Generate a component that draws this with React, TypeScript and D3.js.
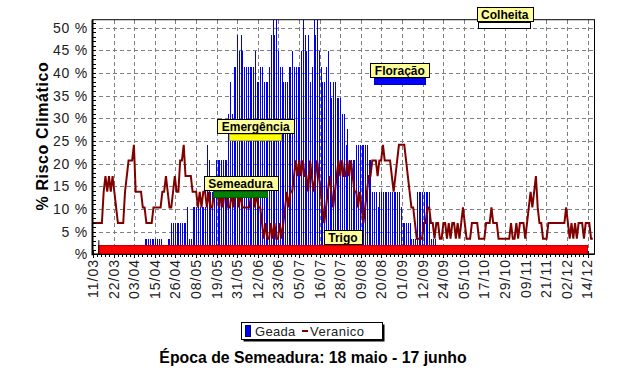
import React, { useRef, useEffect } from 'react';
import * as d3 from 'd3';

// each value = number of years (out of 29) with the event on that day, starting 11/03
const TOTAL_ANOS = 29;

const tickLabels = ['11/03', '22/03', '03/04', '15/04', '26/04', '08/05', '19/05', '31/05', '12/06',
  '23/06', '05/07', '16/07', '28/07', '09/08', '20/08', '01/09', '12/09', '24/09', '05/10', '17/10',
  '29/10', '09/11', '21/11', '02/12', '14/12'];

const yTicks = [0, 5, 10, 15, 20, 25, 30, 35, 40, 45, 50];

const geadaAnos = [
  0, 0, 0, 0, 0, 0, 0, 0, 0, 0, 0, 0, 0, 0, 0, 0, 0, 0, 0, 0,
  0, 0, 0, 0, 0, 0, 0, 0, 0, 1, 1, 1, 1, 1, 1, 1, 1, 1, 1, 0,
  0, 0, 1, 1, 2, 2, 2, 2, 2, 2, 2, 2, 2, 3, 1, 1, 3, 3, 3, 3,
  3, 3, 3, 3, 7, 6, 4, 4, 4, 6, 6, 6, 6, 6, 6, 6, 9, 11, 9, 12,
  12, 14, 13, 14, 13, 12, 12, 12, 12, 12, 12, 13, 11, 11, 12, 12, 11, 11, 11, 12,
  14, 15, 14, 15, 13, 12, 12, 11, 11, 11, 12, 12, 13, 12, 12, 12, 12, 13, 15, 14,
  13, 14, 11, 12, 15, 14, 15, 13, 12, 11, 11, 12, 13, 11, 10, 11, 11, 10, 10, 10,
  9, 9, 7, 8, 6, 6, 6, 6, 7, 7, 7, 7, 7, 7, 7, 6, 6, 4, 4, 4,
  3, 4, 4, 4, 4, 4, 4, 4, 4, 4, 4, 4, 4, 3, 2, 2, 2, 2, 2, 1,
  1, 1, 4, 4, 4, 4, 4, 4, 4, 4, 1, 1, 1, 0, 0, 0, 0, 0, 0, 0,
];

const veranicoAnos = [
  2, 2, 2, 2, 2, 2, 4, 5, 4, 5, 4, 5, 4, 3, 2, 2, 2, 2, 4, 5,
  6, 6, 6, 7, 4, 4, 4, 4, 3, 3, 2, 2, 2, 2, 3, 3, 3, 3, 3, 4,
  4, 5, 4, 3, 3, 4, 5, 4, 4, 6, 6, 7, 5, 5, 5, 5, 4, 4, 4, 3,
  4, 3, 4, 4, 3, 4, 3, 3, 4, 4, 4, 3, 4, 3, 4, 4, 3, 3, 4, 3,
  4, 4, 3, 4, 3, 3, 3, 3, 3, 4, 4, 3, 4, 3, 3, 2, 1, 2, 1, 1,
  2, 1, 2, 1, 1, 2, 1, 2, 3, 4, 3, 4, 4, 5, 6, 5, 6, 5, 6, 5,
  5, 4, 6, 5, 4, 5, 6, 5, 4, 3, 2, 3, 4, 5, 4, 3, 4, 5, 6, 5,
  6, 5, 5, 6, 5, 6, 5, 4, 4, 3, 4, 3, 2, 3, 4, 5, 5, 6, 6, 6,
  5, 6, 6, 7, 6, 6, 6, 6, 5, 4, 5, 6, 7, 7, 7, 7, 6, 5, 4, 3,
  3, 2, 1, 1, 1, 1, 2, 2, 3, 3, 2, 2, 1, 2, 2, 1, 1, 2, 2, 1,
  2, 1, 2, 2, 1, 2, 1, 2, 3, 2, 1, 1, 1, 2, 2, 2, 2, 1, 1, 1,
  1, 2, 2, 2, 3, 2, 2, 2, 1, 1, 1, 1, 1, 1, 1, 2, 1, 1, 2, 1,
  2, 2, 2, 1, 2, 3, 4, 3, 4, 5, 3, 2, 2, 1, 1, 1, 2, 2, 2, 2,
  2, 2, 2, 2, 2, 2, 3, 2, 1, 2, 1, 2, 1, 2, 2, 2, 1, 2, 2, 2, 1, 1,
];

// crop stages (day index from 11/03)
const fases = ['Trigo', 'Semeadura', 'Emergência', 'Floração', 'Colheita'];
const faseInicio = [3, 68, 77, 158, 217];
const faseFim = [278, 98, 106, 187, 246];
const faseNivel = [2.0, 14.0, 26.5, 38.8, 51.3];
const faseCor = ['#ff0000', '#008000', '#ffff00', '#0000ff', '#ffffff'];

const FONT = '"Liberation Sans", Arial, sans-serif';

const App = () => {
  const ref = useRef(null);

  useEffect(() => {
    const svg = d3.select(ref.current);
    svg.selectAll('*').remove();

    const left = 92, right = 594, top = 19.7, bottom = 254.3;
    const nDias = 278;
    const x = d3.scaleLinear().domain([0, nDias]).range([93, 587.5]);
    const y = d3.scaleLinear().domain([0, (15 / TOTAL_ANOS) * 100]).range([bottom, top]);
    const pct = n => (n / TOTAL_ANOS) * 100;
    const tickPos = tickLabels.map((_, i) => (i * nDias) / (tickLabels.length - 1));

    svg.append('rect').attr('width', 625).attr('height', 389).attr('fill', '#fff');

    // grid
    const grid = svg.append('g').attr('stroke', '#808080').attr('stroke-dasharray', '4,3')
      .attr('shape-rendering', 'crispEdges');
    grid.selectAll('line.h').data(yTicks.slice(1)).enter().append('line')
      .attr('x1', left).attr('x2', right)
      .attr('y1', d => Math.round(y(d)) + 0.5).attr('y2', d => Math.round(y(d)) + 0.5);
    grid.selectAll('line.v').data(tickPos.slice(1)).enter().append('line')
      .attr('x1', d => Math.round(x(d)) + 0.5).attr('x2', d => Math.round(x(d)) + 0.5)
      .attr('y1', top).attr('y2', bottom);

    // geada bars
    svg.append('g').attr('fill', '#0000f0').attr('shape-rendering', 'crispEdges')
      .selectAll('rect').data(geadaAnos.map((v, i) => ({ v, i })).filter(d => d.v > 0))
      .enter().append('rect')
      .attr('x', d => Math.round(x(d.i)))
      .attr('width', 1)
      .attr('y', d => y(pct(d.v)))
      .attr('height', d => bottom - y(pct(d.v)));

    // veranico line
    const line = d3.line().x((d, i) => x(i)).y(d => y(pct(d)));
    svg.append('path').datum(veranicoAnos)
      .attr('d', line)
      .attr('fill', 'none')
      .attr('stroke', '#800000')
      .attr('stroke-width', 2)
      .attr('stroke-linejoin', 'miter');

    // frame and axes
    svg.append('rect').attr('x', left + 0.5).attr('y', top).attr('width', right - left).attr('height', bottom - top)
      .attr('fill', 'none').attr('stroke', '#000').attr('stroke-width', 1);
    svg.append('line').attr('x1', left + 0.5).attr('x2', left + 0.5).attr('y1', top).attr('y2', bottom + 1)
      .attr('stroke', '#000').attr('stroke-width', 2);
    svg.append('line').attr('x1', left).attr('x2', right).attr('y1', bottom).attr('y2', bottom)
      .attr('stroke', '#000').attr('stroke-width', 1.5);

    // minor ticks
    const minorY = d3.range(0, 52, 1);
    svg.append('g').attr('stroke', '#000').attr('shape-rendering', 'crispEdges')
      .selectAll('line').data(minorY).enter().append('line')
      .attr('x1', left + 1).attr('x2', left + 4)
      .attr('y1', d => Math.round(y(d)) + 0.5).attr('y2', d => Math.round(y(d)) + 0.5);
    const minorX = d3.range(0, nDias + 0.01, nDias / 120);
    svg.append('g').attr('stroke', '#000').attr('shape-rendering', 'crispEdges')
      .selectAll('line').data(minorX).enter().append('line')
      .attr('x1', d => Math.round(x(d)) + 0.5).attr('x2', d => Math.round(x(d)) + 0.5)
      .attr('y1', bottom).attr('y2', bottom + 3);
    svg.append('g').attr('stroke', '#000').attr('shape-rendering', 'crispEdges')
      .selectAll('line').data(tickPos).enter().append('line')
      .attr('x1', d => Math.round(x(d)) + 0.5).attr('x2', d => Math.round(x(d)) + 0.5)
      .attr('y1', bottom - 3).attr('y2', bottom + 4);

    // y labels
    svg.append('g').selectAll('text').data(yTicks).enter().append('text')
      .attr('x', 88).attr('y', d => y(d) + 5)
      .attr('text-anchor', 'end')
      .style('font-family', FONT).style('font-size', '14px').style('letter-spacing', '0.8px')
      .attr('fill', '#222')
      .text(d => (d === 0 ? '%' : `${d} %`));

    // x labels
    svg.append('g').selectAll('text').data(tickPos).enter().append('text')
      .attr('transform', (d) => `translate(${x(d)},259) rotate(-90)`)
      .attr('dy', '0.35em')
      .attr('text-anchor', 'end')
      .style('font-family', FONT).style('font-size', '14px').style('letter-spacing', '1px')
      .attr('fill', '#222')
      .text((d, i) => tickLabels[i]);

    // y title
    svg.append('text')
      .attr('transform', 'translate(48,136) rotate(-90)')
      .attr('text-anchor', 'middle')
      .style('font-family', FONT).style('font-size', '16px').style('font-weight', 'bold')
      .style('letter-spacing', '0.6px')
      .text('% Risco Climático');

    // stage bars with labels
    fases.forEach((nome, k) => {
      const x0 = x(faseInicio[k]), x1 = x(faseFim[k]);
      const yTop = Math.round(y(faseNivel[k]));
      const h = k === 0 ? 8 : 6;
      svg.append('rect').attr('x', x0).attr('y', yTop).attr('width', x1 - x0).attr('height', h)
        .attr('fill', faseCor[k]).attr('stroke', k === 4 ? '#000' : d3.color(faseCor[k]).darker(0.8))
        .attr('stroke-width', 1).attr('shape-rendering', 'crispEdges');
      const cx = (x0 + x1) / 2;
      const g = svg.append('g');
      const box = g.append('rect');
      const t = g.append('text')
        .attr('x', cx).attr('y', yTop - 3)
        .attr('text-anchor', 'middle')
        .style('font-family', FONT).style('font-size', '12px').style('font-weight', 'bold')
        .text(nome);
      const w = t.node().getComputedTextLength() + 9;
      box.attr('x', Math.round(cx - w / 2) + 0.5).attr('y', yTop - 14.5).attr('width', Math.round(w)).attr('height', 14)
        .attr('fill', '#ffff99').attr('stroke', '#000').attr('stroke-width', 1);
    });
    svg.append('line').attr('x1', x(faseInicio[0]) + 0.5).attr('x2', x(faseInicio[0]) + 0.5)
      .attr('y1', bottom - 14).attr('y2', bottom).attr('stroke', '#000');

    // legend
    const lg = svg.append('g');
    lg.append('rect').attr('x', 243.5).attr('y', 324.5).attr('width', 141).attr('height', 17)
      .attr('fill', '#000');
    lg.append('rect').attr('x', 241.5).attr('y', 322.5).attr('width', 141).attr('height', 17)
      .attr('fill', '#fff').attr('stroke', '#000');
    lg.append('rect').attr('x', 245.5).attr('y', 325.5).attr('width', 5).attr('height', 11)
      .attr('fill', '#0000f0').attr('stroke', '#000080');
    lg.append('text').attr('x', 255).attr('y', 336)
      .style('font-family', FONT).style('font-size', '13px').style('letter-spacing', '0.3px')
      .attr('fill', '#222').text('Geada');
    lg.append('line').attr('x1', 302).attr('x2', 308).attr('y1', 331).attr('y2', 331)
      .attr('stroke', '#800000').attr('stroke-width', 2);
    lg.append('text').attr('x', 310).attr('y', 336)
      .style('font-family', FONT).style('font-size', '13px').style('letter-spacing', '0.5px')
      .attr('fill', '#222').text('Veranico');

    // bottom title
    svg.append('text').attr('x', 313).attr('y', 363)
      .attr('text-anchor', 'middle')
      .style('font-family', FONT).style('font-size', '15.8px').style('font-weight', 'bold')
      .text('Época de Semeadura: 18 maio - 17 junho');
  }, []);

  return <svg ref={ref} width={625} height={389} style={{ position: 'absolute', left: 0, top: 0 }} />;
};

export default App;
